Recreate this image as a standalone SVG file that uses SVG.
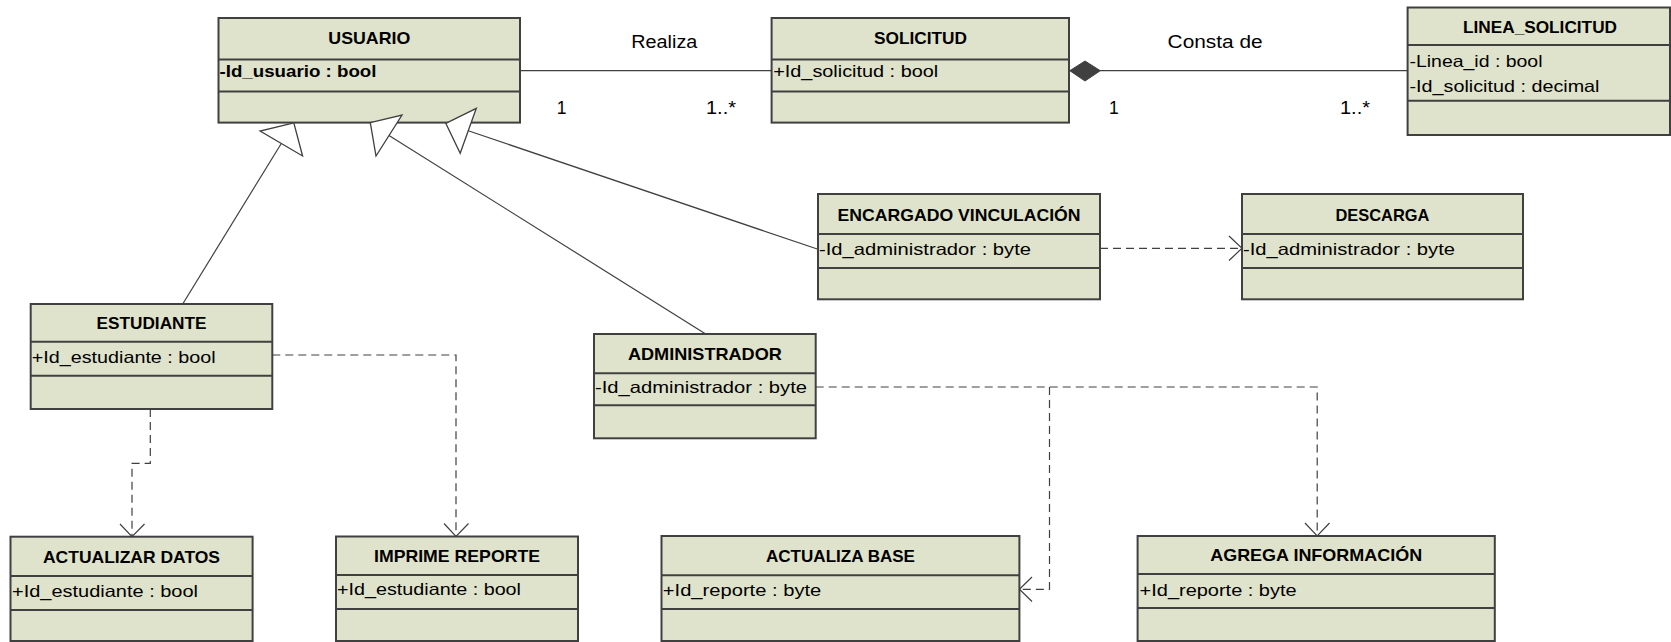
<svg xmlns="http://www.w3.org/2000/svg" width="1671" height="642" viewBox="0 0 1671 642">
<style>
.box{fill:#DFE3CB;stroke:#404040;stroke-width:2}
.div{stroke:#404040;stroke-width:2}
.h{font-family:"Liberation Sans",Arial,sans-serif;font-size:17px;font-weight:bold;fill:#000;text-anchor:middle}
.a{font-family:"Liberation Sans",Arial,sans-serif;font-size:16.5px;fill:#000}
.ab{font-family:"Liberation Sans",Arial,sans-serif;font-size:16.5px;font-weight:bold;fill:#000}
.lbl{font-family:"Liberation Sans",Arial,sans-serif;font-size:17.5px;fill:#000}
.ln{stroke:#404040;stroke-width:1.2;fill:none}
.dash{stroke:#404040;stroke-width:1.2;fill:none;stroke-dasharray:8,5}
.tri{fill:#fff;stroke:#404040;stroke-width:1.3}
.arr{stroke:#404040;stroke-width:1.2;fill:none}
</style>
<rect width="1671" height="642" fill="#fff"/>

<g id="usuario">
<rect class="box" x="218.5" y="18" width="301.5" height="104.6"/>
<line class="div" x1="218.5" y1="59.5" x2="520" y2="59.5"/>
<line class="div" x1="218.5" y1="91.5" x2="520" y2="91.5"/>
<text class="h" x="369.3" y="44" textLength="82" lengthAdjust="spacingAndGlyphs">USUARIO</text>
<text class="ab" x="219.5" y="77" textLength="157" lengthAdjust="spacingAndGlyphs">-Id_usuario : bool</text>
</g>

<g id="solicitud">
<rect class="box" x="771.6" y="18" width="297.4" height="104.6"/>
<line class="div" x1="771.6" y1="59.5" x2="1069" y2="59.5"/>
<line class="div" x1="771.6" y1="91.5" x2="1069" y2="91.5"/>
<text class="h" x="920.5" y="44" textLength="93" lengthAdjust="spacingAndGlyphs">SOLICITUD</text>
<text class="a" x="773.2" y="77" textLength="165" lengthAdjust="spacingAndGlyphs">+Id_solicitud : bool</text>
</g>

<g id="linea_solicitud">
<rect class="box" x="1407.6" y="7.5" width="262.4" height="127.5"/>
<line class="div" x1="1407.6" y1="45" x2="1670" y2="45"/>
<line class="div" x1="1407.6" y1="100.7" x2="1670" y2="100.7"/>
<text class="h" x="1540" y="33.3" textLength="154" lengthAdjust="spacingAndGlyphs">LINEA_SOLICITUD</text>
<text class="a" x="1409.5" y="66.7" textLength="133" lengthAdjust="spacingAndGlyphs">-Linea_id : bool</text>
<text class="a" x="1409.5" y="91.7" textLength="190" lengthAdjust="spacingAndGlyphs">-Id_solicitud : decimal</text>
</g>

<g id="encargado">
<rect class="box" x="818" y="194" width="282" height="105.3"/>
<line class="div" x1="818" y1="234" x2="1100" y2="234"/>
<line class="div" x1="818" y1="268" x2="1100" y2="268"/>
<text class="h" x="959" y="220.7" textLength="243" lengthAdjust="spacingAndGlyphs">ENCARGADO VINCULACIÓN</text>
<text class="a" x="819" y="254.7" textLength="212" lengthAdjust="spacingAndGlyphs">-Id_administrador : byte</text>
</g>

<g id="descarga">
<rect class="box" x="1242" y="194" width="281" height="105.3"/>
<line class="div" x1="1242" y1="234" x2="1523" y2="234"/>
<line class="div" x1="1242" y1="268" x2="1523" y2="268"/>
<text class="h" x="1382.4" y="220.7" textLength="94" lengthAdjust="spacingAndGlyphs">DESCARGA</text>
<text class="a" x="1243" y="254.7" textLength="212" lengthAdjust="spacingAndGlyphs">-Id_administrador : byte</text>
</g>

<g id="administrador">
<rect class="box" x="594" y="334" width="221.7" height="104.3"/>
<line class="div" x1="594" y1="373.3" x2="815.7" y2="373.3"/>
<line class="div" x1="594" y1="405.3" x2="815.7" y2="405.3"/>
<text class="h" x="704.9" y="360" textLength="154" lengthAdjust="spacingAndGlyphs">ADMINISTRADOR</text>
<text class="a" x="595" y="393.3" textLength="212" lengthAdjust="spacingAndGlyphs">-Id_administrador : byte</text>
</g>

<g id="estudiante">
<rect class="box" x="30.7" y="304" width="241.6" height="105"/>
<line class="div" x1="30.7" y1="341.7" x2="272.3" y2="341.7"/>
<line class="div" x1="30.7" y1="375.7" x2="272.3" y2="375.7"/>
<text class="h" x="151.5" y="329" textLength="110" lengthAdjust="spacingAndGlyphs">ESTUDIANTE</text>
<text class="a" x="31.7" y="363.3" textLength="184" lengthAdjust="spacingAndGlyphs">+Id_estudiante : bool</text>
</g>

<g id="actualizar_datos">
<rect class="box" x="10.5" y="536.7" width="242.1" height="104.3"/>
<line class="div" x1="10.5" y1="576" x2="252.6" y2="576"/>
<line class="div" x1="10.5" y1="610" x2="252.6" y2="610"/>
<text class="h" x="131.5" y="562.7" textLength="177" lengthAdjust="spacingAndGlyphs">ACTUALIZAR DATOS</text>
<text class="a" x="12" y="596.7" textLength="186" lengthAdjust="spacingAndGlyphs">+Id_estudiante : bool</text>
</g>

<g id="imprime_reporte">
<rect class="box" x="336" y="536.5" width="242" height="104.5"/>
<line class="div" x1="336" y1="575" x2="578" y2="575"/>
<line class="div" x1="336" y1="609" x2="578" y2="609"/>
<text class="h" x="457" y="561.7" textLength="166" lengthAdjust="spacingAndGlyphs">IMPRIME REPORTE</text>
<text class="a" x="337" y="595" textLength="184" lengthAdjust="spacingAndGlyphs">+Id_estudiante : bool</text>
</g>

<g id="actualiza_base">
<rect class="box" x="661.5" y="536" width="357.9" height="105"/>
<line class="div" x1="661.5" y1="575.3" x2="1019.4" y2="575.3"/>
<line class="div" x1="661.5" y1="609" x2="1019.4" y2="609"/>
<text class="h" x="840.5" y="561.7" textLength="149" lengthAdjust="spacingAndGlyphs">ACTUALIZA BASE</text>
<text class="a" x="662.8" y="596" textLength="158.5" lengthAdjust="spacingAndGlyphs">+Id_reporte : byte</text>
</g>

<g id="agrega_informacion">
<rect class="box" x="1137.6" y="536" width="357.2" height="105"/>
<line class="div" x1="1137.6" y1="574" x2="1494.8" y2="574"/>
<line class="div" x1="1137.6" y1="608" x2="1494.8" y2="608"/>
<text class="h" x="1316.2" y="561" textLength="212" lengthAdjust="spacingAndGlyphs">AGREGA INFORMACIÓN</text>
<text class="a" x="1139.6" y="596" textLength="157" lengthAdjust="spacingAndGlyphs">+Id_reporte : byte</text>
</g>

<g id="connectors">
<line class="ln" x1="520" y1="70.7" x2="771.6" y2="70.7"/>
<text class="lbl" x="631.3" y="47.5" textLength="66" lengthAdjust="spacingAndGlyphs">Realiza</text>
<text class="lbl" x="556.7" y="114.3">1</text>
<text class="lbl" x="706" y="114.3" textLength="30" lengthAdjust="spacingAndGlyphs">1..*</text>
<line class="ln" x1="1100" y1="70.7" x2="1407.6" y2="70.7"/>
<polygon points="1069.8,70.7 1085,61 1100.3,70.7 1085,81" fill="#404040" stroke="#404040" stroke-width="1"/>
<text class="lbl" x="1167.6" y="47.7" textLength="95" lengthAdjust="spacingAndGlyphs">Consta de</text>
<text class="lbl" x="1109" y="114.3">1</text>
<text class="lbl" x="1340" y="114.3" textLength="30" lengthAdjust="spacingAndGlyphs">1..*</text>
<line class="ln" x1="182.7" y1="304" x2="281.3" y2="143.5"/>
<polygon class="tri" points="293.8,122.8 260.1,131 302.6,156"/>
<line class="ln" x1="705.7" y1="334" x2="389" y2="135.5"/>
<polygon class="tri" points="370.3,122.7 402,115 376,156"/>
<line class="ln" x1="818" y1="249.3" x2="468.3" y2="130.8"/>
<polygon class="tri" points="445.8,123.3 476.3,108.3 460.2,153.3"/>
<path class="dash" d="M1100,248.3 H1241"/>
<path class="arr" d="M1229,236 L1242,248.3 L1229,260.5"/>
<path class="dash" d="M272.3,355 H456 V536"/>
<path class="arr" d="M444,523.5 L456,536.5 L468.5,523.5"/>
<path class="dash" d="M150.3,409 V463.3 H132 V536"/>
<path class="arr" d="M120,524 L132,536.7 L144.5,524"/>
<path class="dash" d="M815.7,387 H1317.2 V535.5"/>
<path class="arr" d="M1305,523 L1317.2,536 L1329.5,523"/>
<path class="dash" d="M1049.5,387 V589.3 H1020"/>
<path class="arr" d="M1032,577 L1019.4,589.3 L1032,601.5"/>
</g>
</svg>
